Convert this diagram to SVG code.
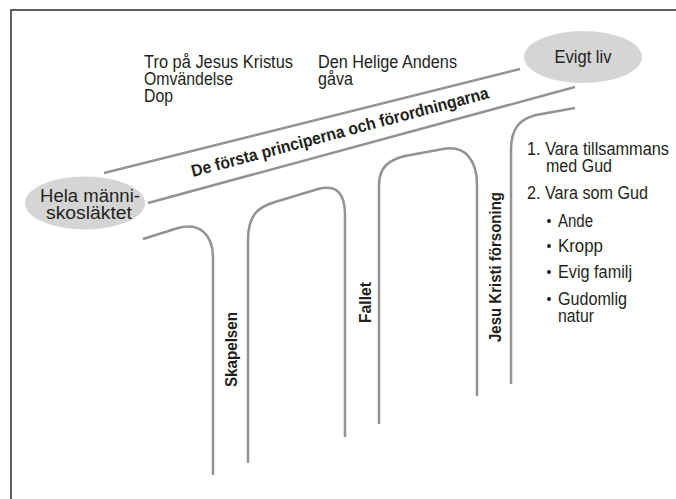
<svg xmlns="http://www.w3.org/2000/svg" width="676" height="499" viewBox="0 0 676 499">
<style>
.t{font-family:"Liberation Sans",Arial,sans-serif;font-size:17.5px;fill:#231f20}
.b{font-family:"Liberation Sans",Arial,sans-serif;font-size:17px;font-weight:bold;fill:#231f20}
.road{fill:none;stroke:#939393;stroke-width:2.5;stroke-linecap:butt}
.oval{fill:#d5d5d5}
</style>
<rect x="0" y="0" width="676" height="499" fill="#fff"/>
<rect x="11" y="10" width="700" height="520" fill="none" stroke="#3a3a3a" stroke-width="1.6"/>

<g id="connectors">
  <path class="road" d="M104,173 L520,69"/>
  <path class="road" d="M148,203 L575,87"/>
  <path class="road" d="M143,239 L178,228 C200,222 213,235 213,258 L213,475"/>
  <path class="road" d="M248,463 L248,240 C248,215 258,207 275,202 L318,189 C338,184 345,195 345,215 L345,437"/>
  <path class="road" d="M379,424 L379,185 C379,167 389,160 405,156 L443,149 C465,145 477,160 477,185 L477,396"/>
  <path class="road" d="M511,384 L511,150 C511,128 520,119 536,115 L575,108"/>
</g>

<g id="node-mankind">
  <ellipse class="oval" cx="85" cy="203" rx="60" ry="26.5"/>
  <text class="t" x="90" y="202" text-anchor="middle" textLength="100" lengthAdjust="spacingAndGlyphs">Hela männi-</text>
  <text class="t" x="89" y="219" text-anchor="middle" textLength="86" lengthAdjust="spacingAndGlyphs">skosläktet</text>
</g>

<g id="node-eternal-life">
  <ellipse class="oval" cx="583" cy="57" rx="59" ry="26"/>
  <text class="t" x="583" y="63" text-anchor="middle" textLength="57" lengthAdjust="spacingAndGlyphs">Evigt liv</text>
</g>

<g id="principles">
  <text class="t" x="144" y="68" textLength="149" lengthAdjust="spacingAndGlyphs">Tro på Jesus Kristus</text>
  <text class="t" x="144" y="85" textLength="89" lengthAdjust="spacingAndGlyphs">Omvändelse</text>
  <text class="t" x="144" y="102" textLength="29" lengthAdjust="spacingAndGlyphs">Dop</text>
  <text class="t" x="318" y="68" textLength="139" lengthAdjust="spacingAndGlyphs">Den Helige Andens</text>
  <text class="t" x="318" y="85" textLength="35" lengthAdjust="spacingAndGlyphs">gåva</text>
</g>

<g id="road-label">
  <text class="b" transform="translate(193,177) rotate(-14.9)" textLength="307" lengthAdjust="spacingAndGlyphs">De första principerna och förordningarna</text>
</g>

<g id="pillar-creation">
  <text class="b" transform="translate(237,387) rotate(-90)" textLength="75" lengthAdjust="spacingAndGlyphs">Skapelsen</text>
</g>
<g id="pillar-fall">
  <text class="b" transform="translate(371,323) rotate(-90)" textLength="41" lengthAdjust="spacingAndGlyphs">Fallet</text>
</g>
<g id="pillar-atonement">
  <text class="b" transform="translate(501,342) rotate(-90)" textLength="150" lengthAdjust="spacingAndGlyphs">Jesu Kristi försoning</text>
</g>

<g id="goals">
  <text class="t" x="527" y="155" textLength="142" lengthAdjust="spacingAndGlyphs">1. Vara tillsammans</text>
  <text class="t" x="546" y="172" textLength="66" lengthAdjust="spacingAndGlyphs">med Gud</text>
  <text class="t" x="527" y="199" textLength="121" lengthAdjust="spacingAndGlyphs">2. Vara som Gud</text>
  <circle cx="549" cy="221" r="2" fill="#231f20"/>
  <text class="t" x="558" y="227" textLength="35" lengthAdjust="spacingAndGlyphs">Ande</text>
  <circle cx="549" cy="246" r="2" fill="#231f20"/>
  <text class="t" x="558" y="252" textLength="45" lengthAdjust="spacingAndGlyphs">Kropp</text>
  <circle cx="549" cy="272" r="2" fill="#231f20"/>
  <text class="t" x="558" y="278" textLength="74" lengthAdjust="spacingAndGlyphs">Evig familj</text>
  <circle cx="549" cy="299" r="2" fill="#231f20"/>
  <text class="t" x="558" y="305" textLength="69" lengthAdjust="spacingAndGlyphs">Gudomlig</text>
  <text class="t" x="558" y="322" textLength="36" lengthAdjust="spacingAndGlyphs">natur</text>
</g>
</svg>
